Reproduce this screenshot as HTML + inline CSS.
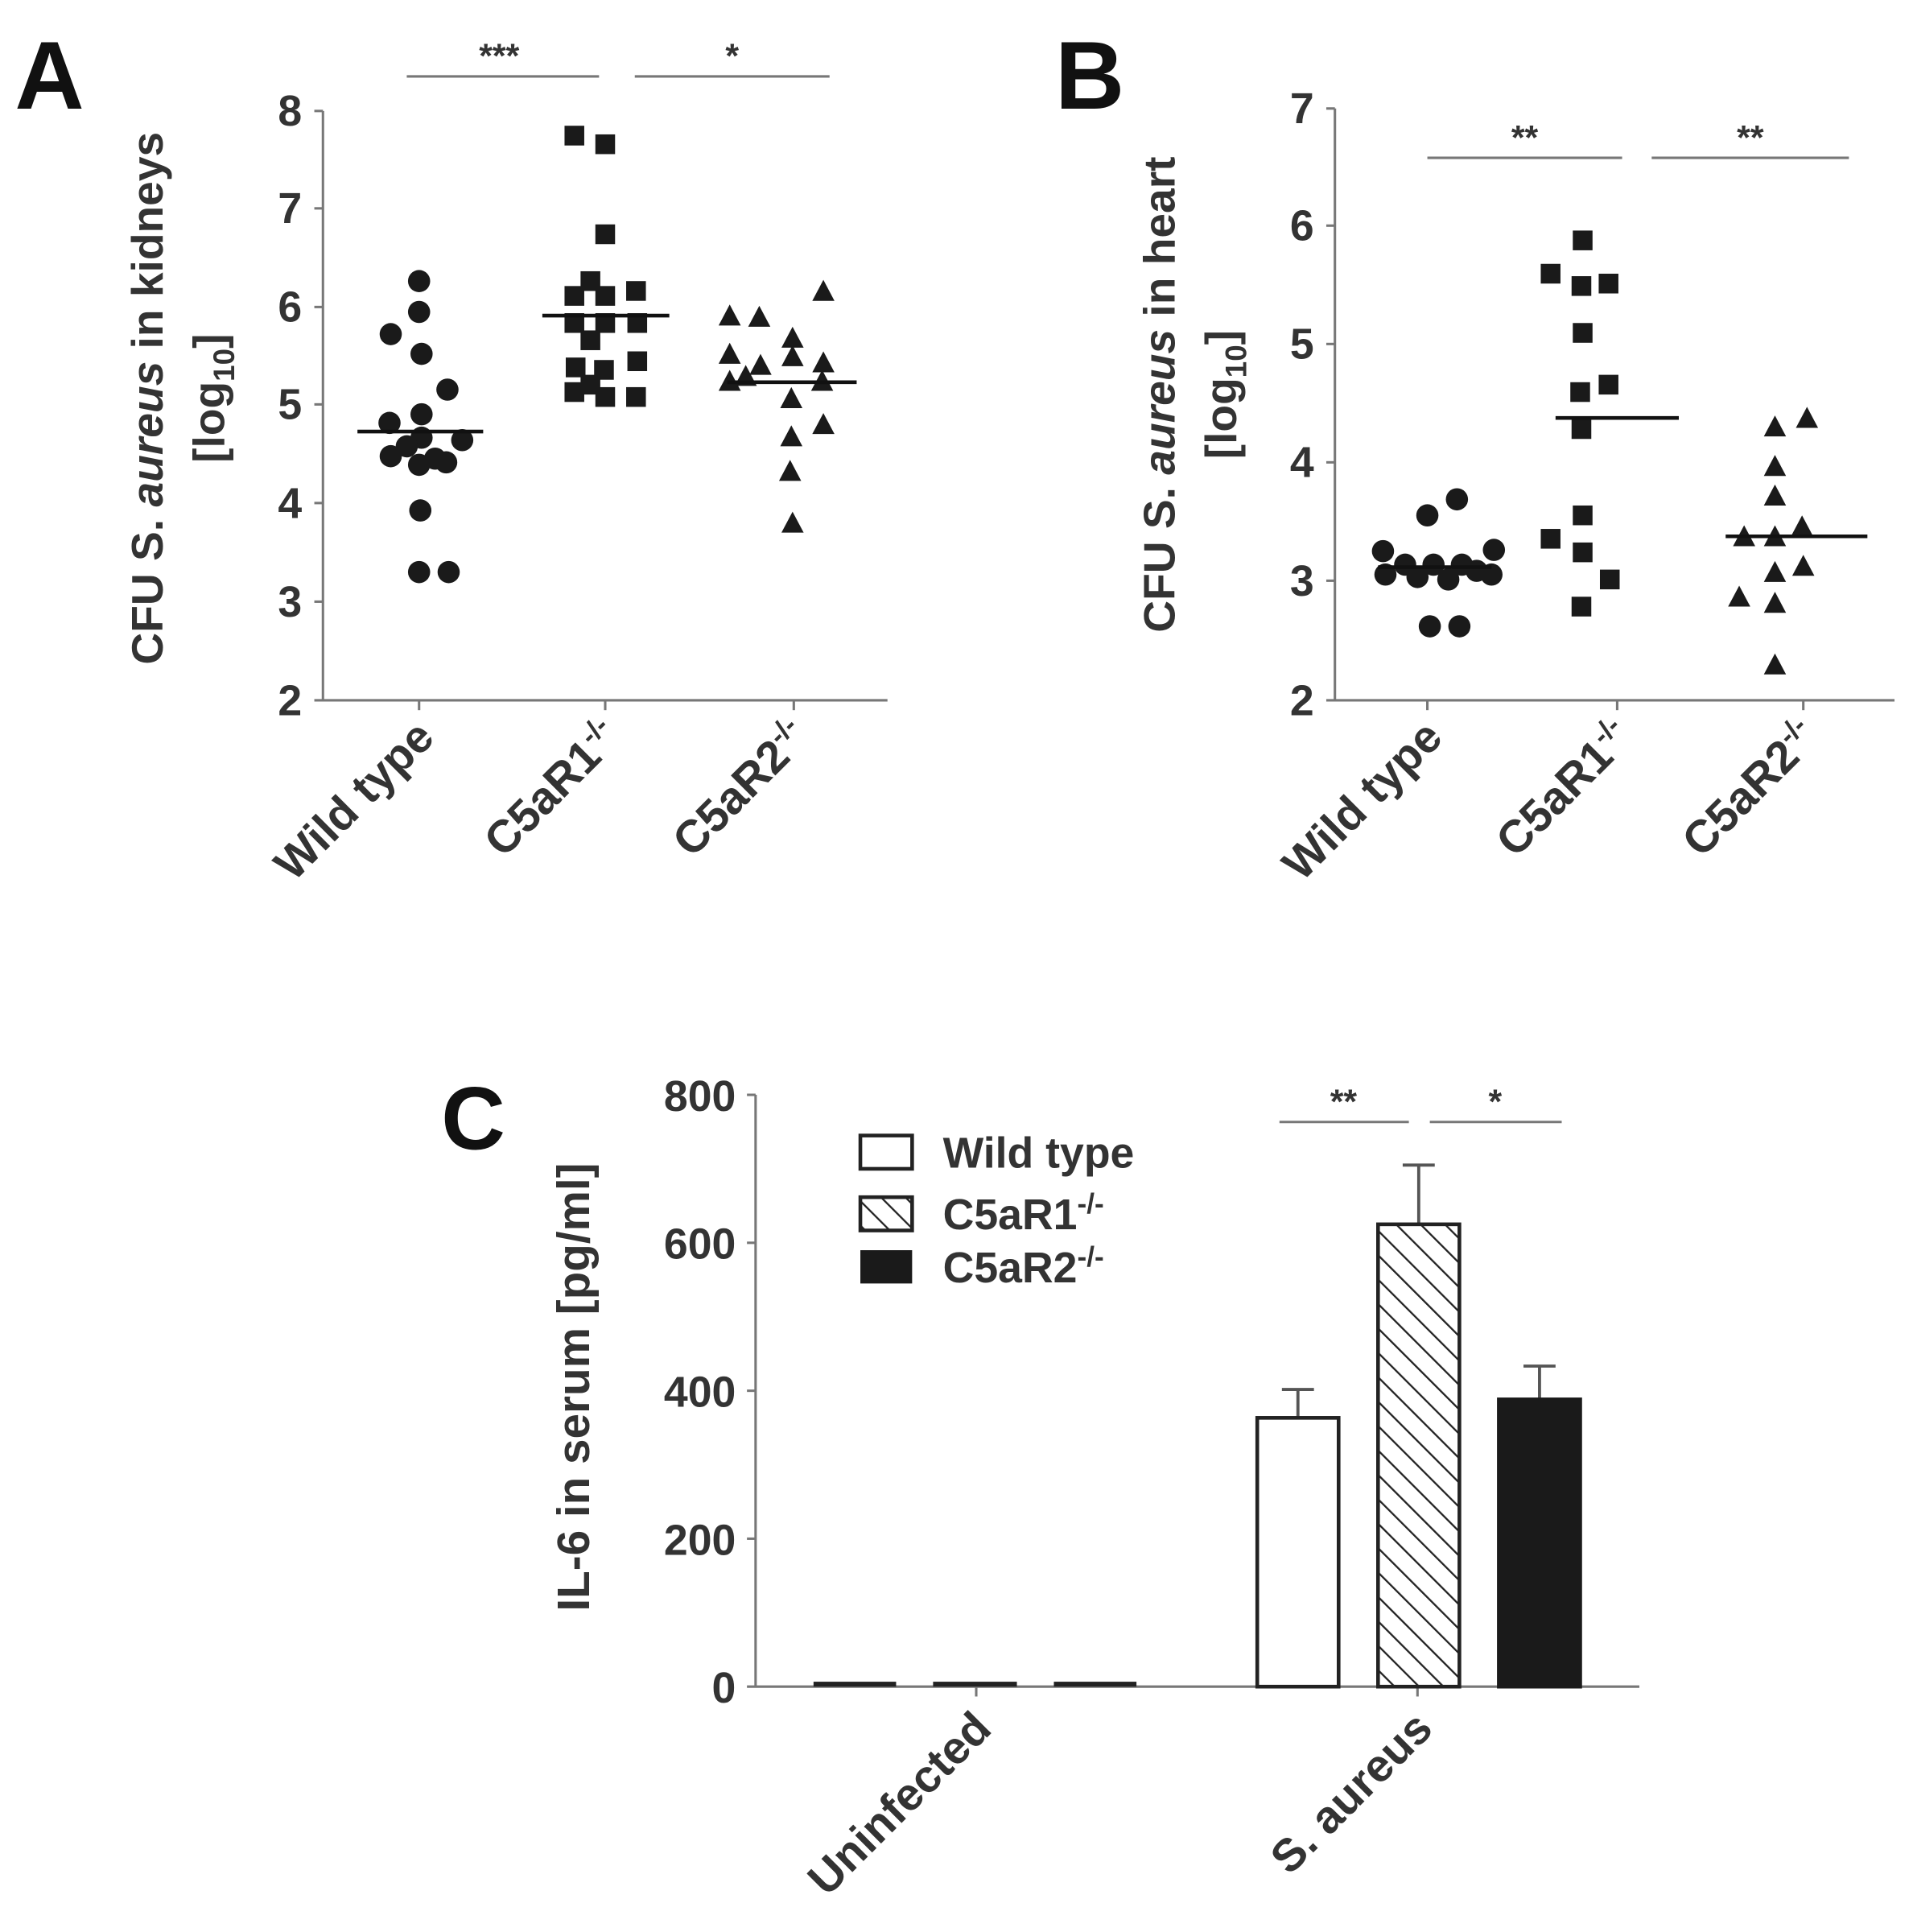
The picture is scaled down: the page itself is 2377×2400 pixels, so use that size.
<!DOCTYPE html>
<html><head><meta charset="utf-8"><style>html,body{margin:0;padding:0;background:#fff}svg{display:block}</style></head>
<body>
<svg width="2377" height="2400" viewBox="0 0 1552 1567" preserveAspectRatio="none" xmlns="http://www.w3.org/2000/svg" font-family="Liberation Sans, sans-serif" font-weight="bold">
<defs>
<pattern id="h" patternUnits="userSpaceOnUse" width="14" height="14" patternTransform="rotate(-45)">
<rect width="14" height="14" fill="#fff"/><line x1="0" y1="0" x2="0" y2="14" stroke="#222" stroke-width="3"/>
</pattern>
<circle id="c" r="9" fill="#1a1a1a"/>
<rect id="s" x="-8" y="-8" width="16" height="16" fill="#1a1a1a"/>
<path id="t" d="M0,-10 L9,7 L-9,7 Z" fill="#1a1a1a"/>
</defs>

<!-- Panel A -->
<text x="12" y="88" font-size="78" fill="#111">A</text>
<g stroke="#777" stroke-width="2" fill="none">
<line x1="262" y1="90" x2="262" y2="568"/>
<line x1="255" y1="568" x2="720" y2="568"/>
<line x1="255" y1="90" x2="262" y2="90"/><line x1="255" y1="169" x2="262" y2="169"/><line x1="255" y1="249" x2="262" y2="249"/><line x1="255" y1="328" x2="262" y2="328"/><line x1="255" y1="408" x2="262" y2="408"/><line x1="255" y1="488" x2="262" y2="488"/>
<line x1="340" y1="568" x2="340" y2="576"/><line x1="491" y1="568" x2="491" y2="576"/><line x1="644" y1="568" x2="644" y2="576"/>
<line x1="330" y1="62" x2="486" y2="62"/><line x1="515" y1="62" x2="673" y2="62"/>
</g>
<g font-size="35" fill="#333" text-anchor="end">
<text x="245" y="102">8</text><text x="245" y="181">7</text><text x="245" y="261">6</text><text x="245" y="340">5</text><text x="245" y="420">4</text><text x="245" y="500">3</text><text x="245" y="580">2</text>
</g>
<text x="405" y="55" font-size="28" fill="#333" text-anchor="middle">***</text>
<text x="594" y="55" font-size="28" fill="#333" text-anchor="middle">*</text>
<text transform="translate(132,323) rotate(-90)" font-size="36" fill="#333" text-anchor="middle">CFU S. <tspan font-style="italic">aureus</tspan> in kidneys</text>
<text transform="translate(182,323) rotate(-90)" font-size="36" fill="#333" text-anchor="middle">[log<tspan font-size="24" dy="8">10</tspan><tspan dy="-8">]</tspan></text>
<g font-size="37" fill="#333" text-anchor="end">
<text transform="translate(354,600) rotate(-45)">Wild type</text>
<text transform="translate(505,600) rotate(-45)">C5aR1<tspan font-size="23" dy="-14">-/-</tspan></text>
<text transform="translate(658,600) rotate(-45)">C5aR2<tspan font-size="23" dy="-14">-/-</tspan></text>
</g>
<g>
<use href="#c" x="340" y="228"/><use href="#c" x="340" y="253"/><use href="#c" x="317" y="271"/><use href="#c" x="342" y="287"/><use href="#c" x="363" y="316"/><use href="#c" x="342" y="336"/><use href="#c" x="316" y="343"/><use href="#c" x="342" y="355"/><use href="#c" x="330" y="362"/><use href="#c" x="375" y="357"/><use href="#c" x="317" y="370"/><use href="#c" x="340" y="377"/><use href="#c" x="353" y="372"/><use href="#c" x="362" y="375"/><use href="#c" x="341" y="414"/><use href="#c" x="340" y="464"/><use href="#c" x="364" y="464"/>
<use href="#s" x="466" y="110"/><use href="#s" x="491" y="117"/><use href="#s" x="491" y="190"/><use href="#s" x="479" y="228"/><use href="#s" x="466" y="240"/><use href="#s" x="491" y="240"/><use href="#s" x="516" y="236"/><use href="#s" x="466" y="262"/><use href="#s" x="491" y="262"/><use href="#s" x="517" y="262"/><use href="#s" x="479" y="276"/><use href="#s" x="467" y="298"/><use href="#s" x="490" y="300"/><use href="#s" x="517" y="293"/><use href="#s" x="466" y="318"/><use href="#s" x="491" y="322"/><use href="#s" x="516" y="322"/><use href="#s" x="479" y="312"/>
<use href="#t" x="592" y="257"/><use href="#t" x="616" y="258"/><use href="#t" x="668" y="237"/><use href="#t" x="643" y="275"/><use href="#t" x="592" y="288"/><use href="#t" x="643" y="290"/><use href="#t" x="668" y="295"/><use href="#t" x="617" y="297"/><use href="#t" x="592" y="310"/><use href="#t" x="605" y="306"/><use href="#t" x="667" y="310"/><use href="#t" x="642" y="324"/><use href="#t" x="668" y="345"/><use href="#t" x="642" y="355"/><use href="#t" x="641" y="383"/><use href="#t" x="643" y="425"/>
</g>
<g stroke="#111" stroke-width="3">
<line x1="290" y1="350" x2="392" y2="350"/><line x1="440" y1="256" x2="543" y2="256"/><line x1="590" y1="310" x2="695" y2="310"/>
</g>

<!-- Panel B -->
<text x="856" y="88" font-size="78" fill="#111">B</text>
<g stroke="#777" stroke-width="2" fill="none">
<line x1="1083" y1="88" x2="1083" y2="568"/>
<line x1="1076" y1="568" x2="1537" y2="568"/>
<line x1="1076" y1="88" x2="1083" y2="88"/><line x1="1076" y1="183" x2="1083" y2="183"/><line x1="1076" y1="279" x2="1083" y2="279"/><line x1="1076" y1="375" x2="1083" y2="375"/><line x1="1076" y1="471" x2="1083" y2="471"/>
<line x1="1158" y1="568" x2="1158" y2="576"/><line x1="1312" y1="568" x2="1312" y2="576"/><line x1="1463" y1="568" x2="1463" y2="576"/>
<line x1="1158" y1="128" x2="1316" y2="128"/><line x1="1340" y1="128" x2="1500" y2="128"/>
</g>
<g font-size="35" fill="#333" text-anchor="end">
<text x="1066" y="100">7</text><text x="1066" y="195">6</text><text x="1066" y="291">5</text><text x="1066" y="387">4</text><text x="1066" y="483">3</text><text x="1066" y="580">2</text>
</g>
<text x="1237" y="121" font-size="28" fill="#333" text-anchor="middle">**</text>
<text x="1420" y="121" font-size="28" fill="#333" text-anchor="middle">**</text>
<text transform="translate(953,320) rotate(-90)" font-size="36" fill="#333" text-anchor="middle">CFU S. <tspan font-style="italic">aureus</tspan> in heart</text>
<text transform="translate(1003,320) rotate(-90)" font-size="36" fill="#333" text-anchor="middle">[log<tspan font-size="24" dy="8">10</tspan><tspan dy="-8">]</tspan></text>
<g font-size="37" fill="#333" text-anchor="end">
<text transform="translate(1172,600) rotate(-45)">Wild type</text>
<text transform="translate(1326,600) rotate(-45)">C5aR1<tspan font-size="23" dy="-14">-/-</tspan></text>
<text transform="translate(1477,600) rotate(-45)">C5aR2<tspan font-size="23" dy="-14">-/-</tspan></text>
</g>
<g>
<use href="#c" x="1158" y="418"/><use href="#c" x="1182" y="405"/><use href="#c" x="1122" y="447"/><use href="#c" x="1212" y="446"/><use href="#c" x="1140" y="458"/><use href="#c" x="1163" y="458"/><use href="#c" x="1186" y="458"/><use href="#c" x="1198" y="463"/><use href="#c" x="1124" y="466"/><use href="#c" x="1150" y="468"/><use href="#c" x="1175" y="470"/><use href="#c" x="1210" y="466"/><use href="#c" x="1160" y="508"/><use href="#c" x="1184" y="508"/>
<use href="#s" x="1284" y="195"/><use href="#s" x="1258" y="222"/><use href="#s" x="1283" y="232"/><use href="#s" x="1305" y="230"/><use href="#s" x="1284" y="270"/><use href="#s" x="1305" y="312"/><use href="#s" x="1282" y="318"/><use href="#s" x="1283" y="348"/><use href="#s" x="1284" y="418"/><use href="#s" x="1258" y="437"/><use href="#s" x="1284" y="448"/><use href="#s" x="1306" y="470"/><use href="#s" x="1283" y="492"/>
<use href="#t" x="1466" y="340"/><use href="#t" x="1440" y="347"/><use href="#t" x="1440" y="379"/><use href="#t" x="1440" y="403"/><use href="#t" x="1462" y="428"/><use href="#t" x="1415" y="436"/><use href="#t" x="1440" y="436"/><use href="#t" x="1463" y="460"/><use href="#t" x="1440" y="465"/><use href="#t" x="1411" y="485"/><use href="#t" x="1440" y="490"/><use href="#t" x="1440" y="540"/>
</g>
<g stroke="#111" stroke-width="3">
<line x1="1118" y1="460" x2="1210" y2="460"/><line x1="1262" y1="339" x2="1362" y2="339"/><line x1="1400" y1="435" x2="1515" y2="435"/>
</g>

<!-- Panel C -->
<text x="358" y="932" font-size="72" fill="#111">C</text>
<g stroke="#777" stroke-width="2" fill="none">
<line x1="613" y1="888" x2="613" y2="1368"/>
<line x1="606" y1="1368" x2="1330" y2="1368"/>
<line x1="606" y1="888" x2="613" y2="888"/><line x1="606" y1="1008" x2="613" y2="1008"/><line x1="606" y1="1128" x2="613" y2="1128"/><line x1="606" y1="1248" x2="613" y2="1248"/>
<line x1="792" y1="1368" x2="792" y2="1376"/><line x1="1150" y1="1368" x2="1150" y2="1376"/>
<line x1="1038" y1="910" x2="1143" y2="910"/><line x1="1160" y1="910" x2="1267" y2="910"/>
</g>
<g font-size="35" fill="#333" text-anchor="end">
<text x="597" y="901">800</text><text x="597" y="1021">600</text><text x="597" y="1141">400</text><text x="597" y="1261">200</text><text x="597" y="1381">0</text>
</g>
<text x="1090" y="903" font-size="28" fill="#333" text-anchor="middle">**</text>
<text x="1213" y="903" font-size="28" fill="#333" text-anchor="middle">*</text>
<text transform="translate(478,1125) rotate(-90)" font-size="37" fill="#333" text-anchor="middle">IL-6 in serum [pg/ml]</text>
<g font-size="37" fill="#333" text-anchor="end">
<text transform="translate(806,1404) rotate(-45)">Uninfected</text>
<text transform="translate(1164,1404) rotate(-45)">S. aureus</text>
</g>
<g fill="#222">
<rect x="660" y="1364" width="67" height="4"/><rect x="757" y="1364" width="68" height="4"/><rect x="855" y="1364" width="67" height="4"/>
</g>
<g stroke="#555" stroke-width="2.5">
<line x1="1053" y1="1150" x2="1053" y2="1127"/><line x1="1040" y1="1127" x2="1066" y2="1127"/>
<line x1="1151" y1="993" x2="1151" y2="945"/><line x1="1138" y1="945" x2="1164" y2="945"/>
<line x1="1249" y1="1135" x2="1249" y2="1108"/><line x1="1236" y1="1108" x2="1262" y2="1108"/>
</g>
<rect x="1020" y="1150" width="66" height="218" fill="#fff" stroke="#222" stroke-width="3"/>
<rect x="1118" y="993" width="66" height="375" fill="url(#h)" stroke="#222" stroke-width="3"/>
<rect x="1216" y="1135" width="66" height="233" fill="#1a1a1a" stroke="#1a1a1a" stroke-width="3"/>
<rect x="698" y="921" width="42" height="27" fill="#fff" stroke="#222" stroke-width="3"/>
<rect x="698" y="971" width="42" height="27" fill="url(#h)" stroke="#222" stroke-width="3"/>
<rect x="698" y="1014" width="42" height="27" fill="#1a1a1a"/>
<g font-size="35" fill="#333">
<text x="765" y="947">Wild type</text>
<text x="765" y="997">C5aR1<tspan font-size="23" dy="-13">-/-</tspan></text>
<text x="765" y="1040">C5aR2<tspan font-size="23" dy="-13">-/-</tspan></text>
</g>
</svg>
</body></html>
